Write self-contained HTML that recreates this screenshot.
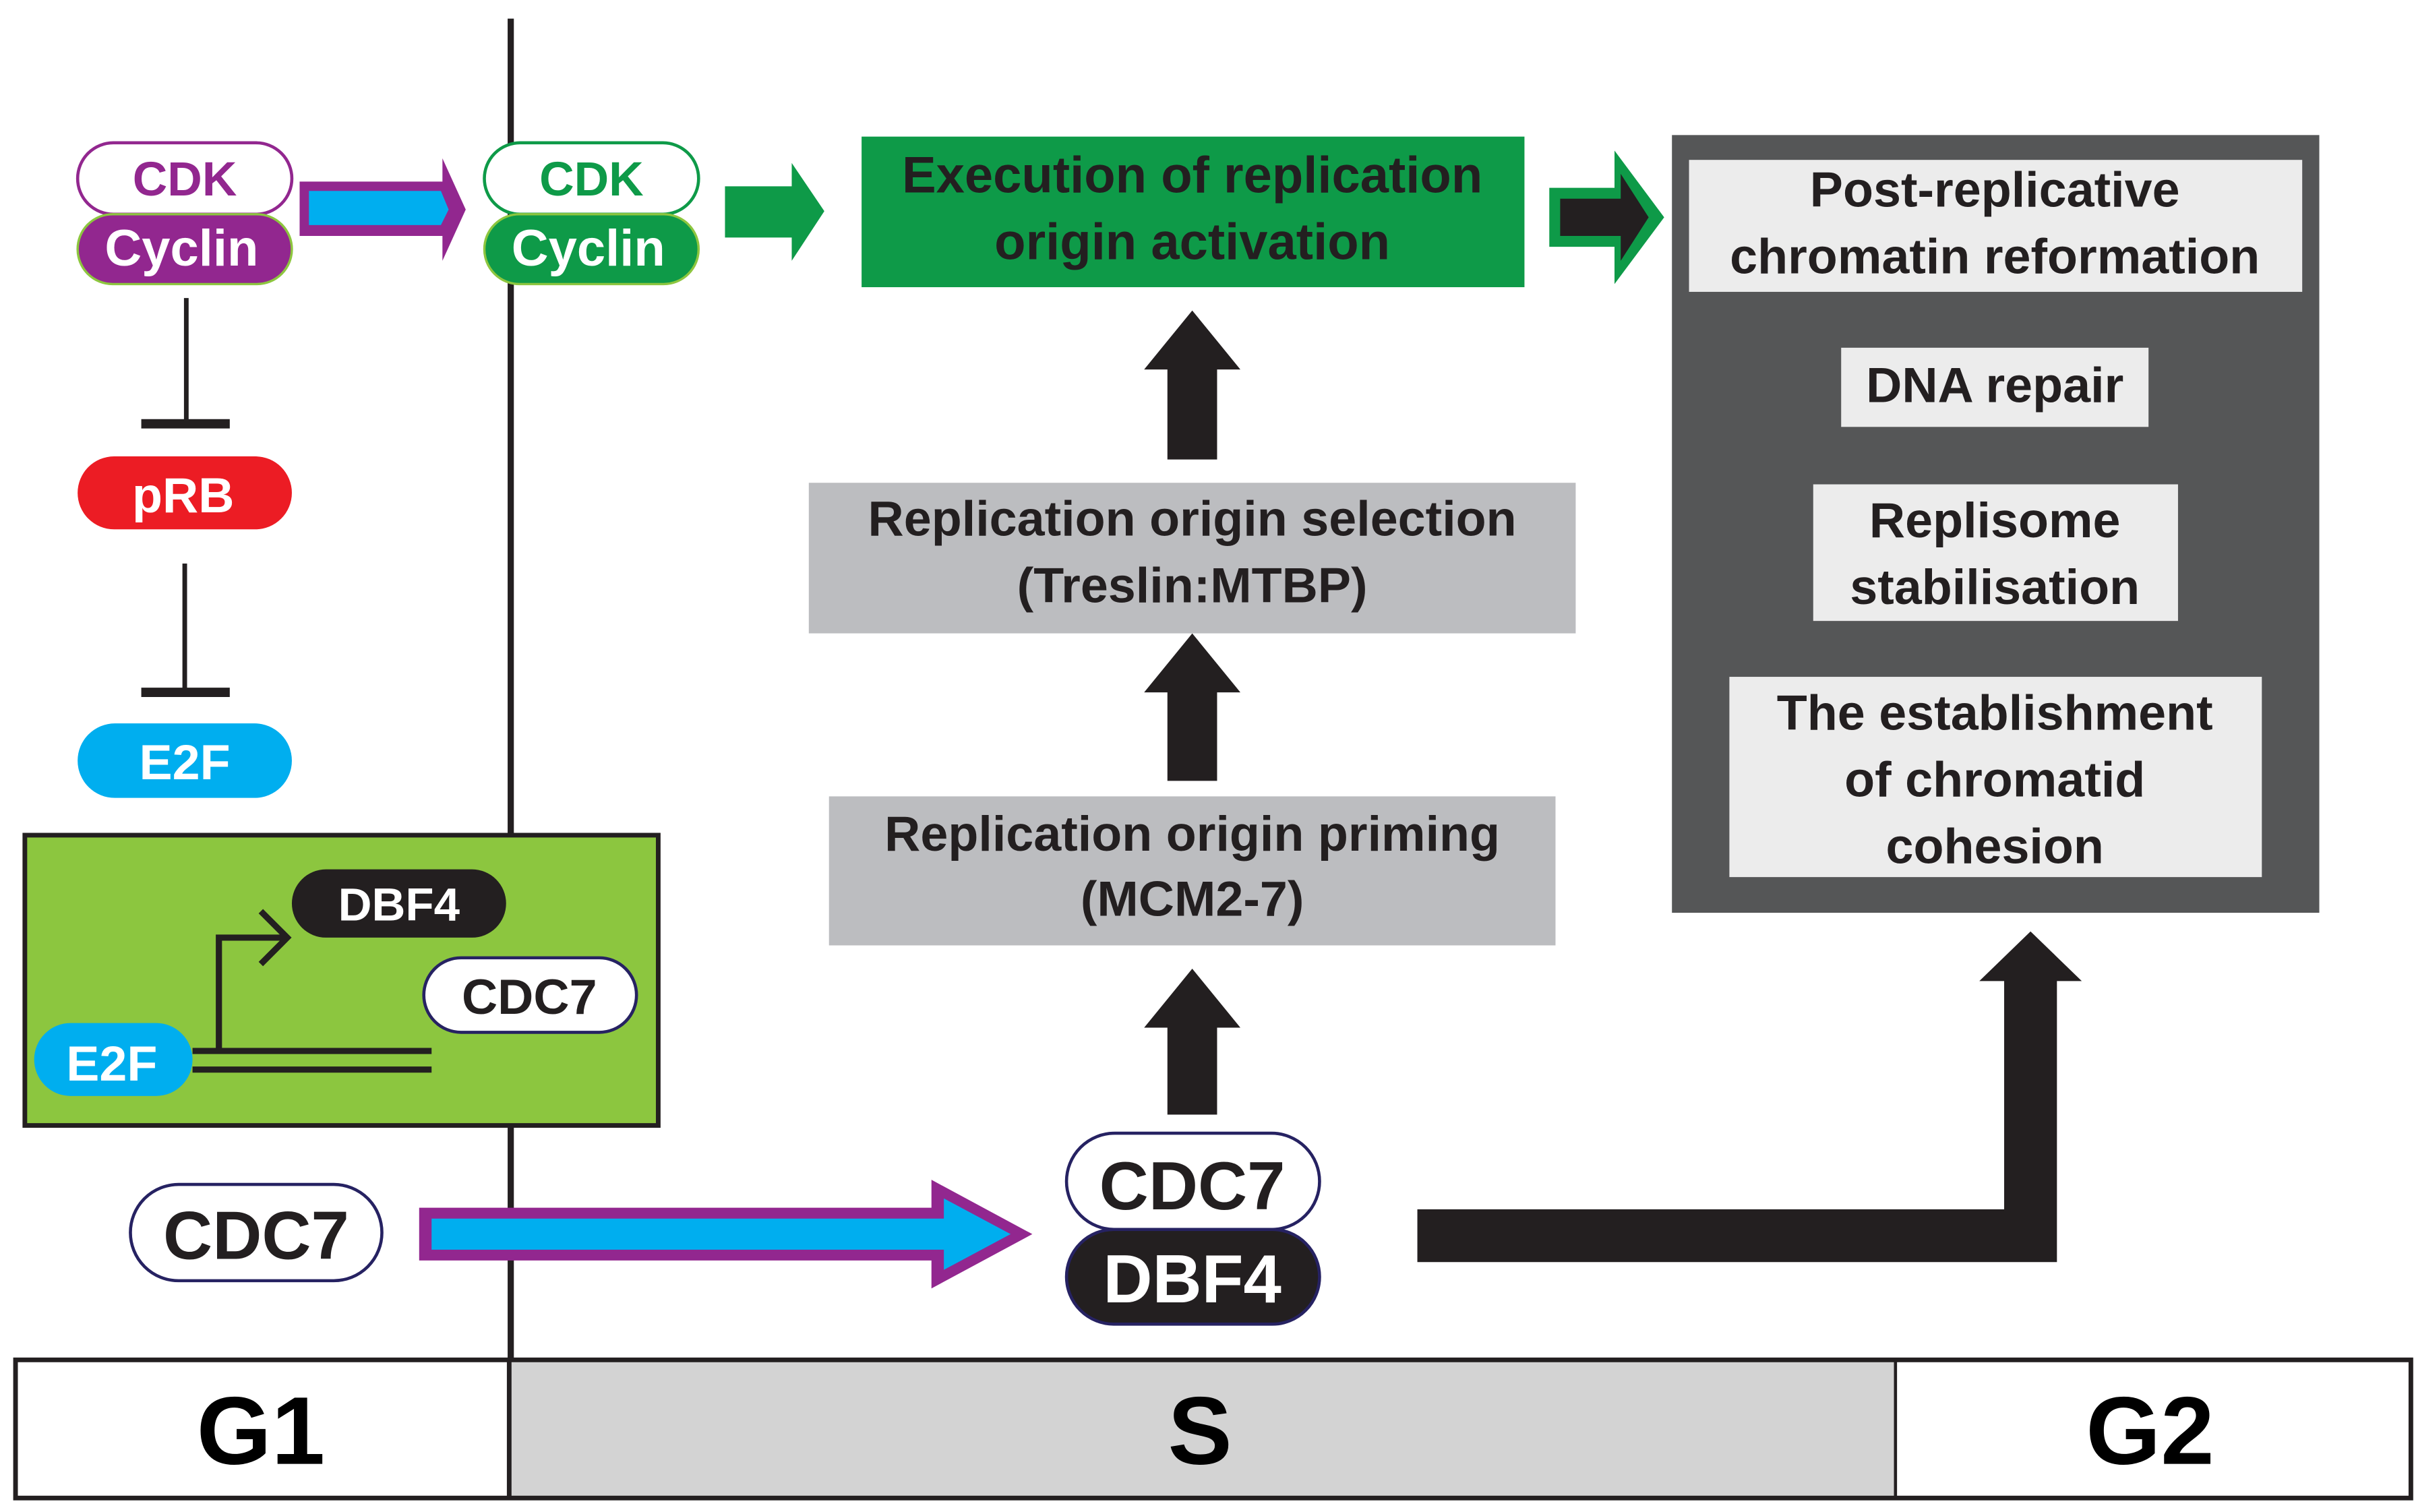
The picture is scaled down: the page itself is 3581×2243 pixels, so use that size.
<!DOCTYPE html>
<html><head><meta charset="utf-8"><style>html,body{margin:0;padding:0;background:#fff}svg{display:block}text{font-family:"Liberation Sans",Arial,sans-serif;font-weight:bold;text-anchor:middle}</style></head>
<body>
<svg width="3581" height="2243" viewBox="0 0 1555 974" xmlns="http://www.w3.org/2000/svg">
<rect width="1555" height="974" fill="#fff"/>
<line x1="329" y1="12" x2="329" y2="876" stroke="#231f20" stroke-width="4"/>
<!-- purple CDK/Cyclin -->
<rect x="50" y="92" width="138" height="46" rx="23" fill="#fff" stroke="#92278f" stroke-width="2"/>
<rect x="50" y="138" width="138" height="45" rx="22.5" fill="#92278f" stroke="#8dc63f" stroke-width="1.5"/>
<text x="119" y="126" font-size="31" fill="#92278f">CDK</text>
<text x="117" y="171" font-size="33" fill="#fff">Cyclin</text>
<polygon points="193,117 285,117 285,102 300,135 285,168 285,152 193,152" fill="#92278f"/>
<polygon points="199,123 284,123 289,135 284,145 199,145" fill="#00aeef"/>
<!-- green CDK/Cyclin -->
<rect x="312" y="92" width="138" height="46" rx="23" fill="#fff" stroke="#0e9a48" stroke-width="2"/>
<rect x="312" y="138" width="138" height="45" rx="22.5" fill="#0e9a48" stroke="#8dc63f" stroke-width="1.5"/>
<text x="381" y="126" font-size="31" fill="#0e9a48">CDK</text>
<text x="379" y="171" font-size="33" fill="#fff">Cyclin</text>
<polygon points="467,120 510,120 510,105 531,136 510,168 510,153 467,153" fill="#0e9a48"/>
<rect x="555" y="88" width="427" height="97" fill="#0e9a48"/>
<text x="768" y="124" font-size="33" fill="#231f20">Execution of replication</text>
<text x="768" y="167" font-size="33" fill="#231f20">origin activation</text>
<polygon points="998,121 1040,121 1040,97 1072,140 1040,183 1040,159 998,159" fill="#0e9a48"/>
<polygon points="1005,128 1044,128 1044,112 1062,140 1044,168 1044,152 1005,152" fill="#231f20"/>
<!-- dark box -->
<rect x="1077" y="87" width="417" height="501" fill="#555657"/>
<rect x="1088" y="103" width="395" height="85" fill="#ececec"/>
<text x="1285" y="133" font-size="32" fill="#231f20">Post-replicative</text>
<text x="1285" y="176" font-size="32" fill="#231f20">chromatin reformation</text>
<rect x="1186" y="224" width="198" height="51" fill="#ececec"/>
<text x="1285" y="259" font-size="32" fill="#231f20">DNA repair</text>
<rect x="1168" y="312" width="235" height="88" fill="#ececec"/>
<text x="1285" y="346" font-size="32" fill="#231f20">Replisome</text>
<text x="1285" y="389" font-size="32" fill="#231f20">stabilisation</text>
<rect x="1114" y="436" width="343" height="129" fill="#ececec"/>
<text x="1285" y="470" font-size="32" fill="#231f20">The establishment</text>
<text x="1285" y="513" font-size="32" fill="#231f20">of chromatid</text>
<text x="1285" y="556" font-size="32" fill="#231f20">cohesion</text>
<!-- up arrows -->
<polygon points="737,238 768,200 799,238 784,238 784,296 752,296 752,238" fill="#231f20"/>
<polygon points="737,446 768,408 799,446 784,446 784,503 752,503 752,446" fill="#231f20"/>
<polygon points="737,662 768,624 799,662 784,662 784,718 752,718 752,662" fill="#231f20"/>
<rect x="521" y="311" width="494" height="97" fill="#bcbdc0"/>
<text x="768" y="345" font-size="32" fill="#231f20">Replication origin selection</text>
<text x="768" y="388" font-size="32" fill="#231f20">(Treslin:MTBP)</text>
<rect x="534" y="513" width="468" height="96" fill="#bcbdc0"/>
<text x="768" y="548" font-size="32" fill="#231f20">Replication origin priming</text>
<text x="768" y="590" font-size="32" fill="#231f20">(MCM2-7)</text>
<!-- CDC7/DBF4 -->
<rect x="687" y="730" width="163" height="62" rx="31" fill="#fff" stroke="#262262" stroke-width="2"/>
<rect x="687" y="792" width="163" height="61" rx="30.5" fill="#231f20" stroke="#262262" stroke-width="2"/>
<text x="768" y="779" font-size="44" fill="#231f20">CDC7</text>
<text x="768" y="839" font-size="44" fill="#fff">DBF4</text>
<polygon points="913,779 1291,779 1291,632 1275,632 1308,600 1341,632 1325,632 1325,813 913,813" fill="#231f20"/>
<!-- G1 left -->
<line x1="120" y1="192" x2="120" y2="273" stroke="#231f20" stroke-width="3"/>
<line x1="91" y1="273" x2="148" y2="273" stroke="#231f20" stroke-width="6"/>
<rect x="50" y="294" width="138" height="47" rx="23.5" fill="#ec1c24"/>
<text x="118" y="330" font-size="32" fill="#fff">pRB</text>
<line x1="119" y1="363" x2="119" y2="446" stroke="#231f20" stroke-width="3"/>
<line x1="91" y1="446" x2="148" y2="446" stroke="#231f20" stroke-width="6"/>
<rect x="50" y="466" width="138" height="48" rx="24" fill="#00aeef"/>
<text x="119" y="502" font-size="32" fill="#fff">E2F</text>
<rect x="16" y="538" width="408" height="187" fill="#8cc63f" stroke="#231f20" stroke-width="3"/>
<rect x="188" y="560" width="138" height="44" rx="22" fill="#231f20"/>
<text x="257" y="593" font-size="30" fill="#fff">DBF4</text>
<rect x="273" y="617" width="137" height="48" rx="24" fill="#fff" stroke="#262262" stroke-width="2"/>
<text x="341" y="653" font-size="32" fill="#231f20">CDC7</text>
<line x1="124" y1="677" x2="278" y2="677" stroke="#231f20" stroke-width="4"/>
<line x1="124" y1="689" x2="278" y2="689" stroke="#231f20" stroke-width="4"/>
<polyline points="141,677 141,604 185,604" fill="none" stroke="#231f20" stroke-width="4"/>
<polyline points="168,587 185,604 168,621" fill="none" stroke="#231f20" stroke-width="4"/>
<rect x="22" y="659" width="102" height="47" rx="23.5" fill="#00aeef"/>
<text x="72" y="696" font-size="32" fill="#fff">E2F</text>
<rect x="84" y="763" width="162" height="62" rx="31" fill="#fff" stroke="#262262" stroke-width="2"/>
<text x="165" y="811" font-size="44" fill="#231f20">CDC7</text>
<polygon points="270,778 600,778 600,760 665,795 600,830 600,812 270,812" fill="#92278f"/>
<polygon points="278,785 608,785 608,772 651,795 608,818 608,805 278,805" fill="#00aeef"/>
<!-- phase bar -->
<rect x="328" y="876" width="893" height="89" fill="#d3d3d3"/>
<rect x="10" y="876" width="1543" height="89" fill="none" stroke="#231f20" stroke-width="3"/>
<line x1="328" y1="876" x2="328" y2="965" stroke="#231f20" stroke-width="3"/>
<line x1="1221" y1="876" x2="1221" y2="965" stroke="#231f20" stroke-width="2"/>
<text x="168" y="943" font-size="62" fill="#000">G1</text>
<text x="773" y="943" font-size="62" fill="#000">S</text>
<text x="1385" y="943" font-size="62" fill="#000">G2</text>
</svg>
</body></html>
